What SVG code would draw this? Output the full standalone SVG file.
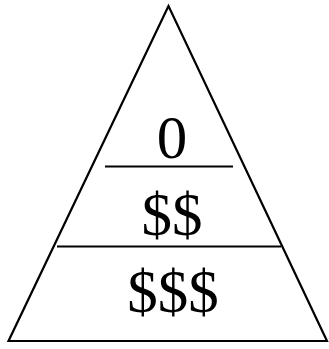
<svg xmlns="http://www.w3.org/2000/svg" width="329" height="349" viewBox="0 0 329 349">
<style>
.s{fill:none;stroke:#000;stroke-width:2.2}
.t{font-family:"Liberation Serif","Times New Roman",serif;font-size:61px;text-anchor:middle;fill:#000}
</style>
<rect width="329" height="349" fill="#fff"/>
<g id="pyramid">
<polygon class="s" points="168.5,6 8.5,341 327,341"/>
</g>
<g id="connectors">
<line class="s" x1="105" y1="166.5" x2="233" y2="166.5"/>
<line class="s" x1="57" y1="246.5" x2="281" y2="246.5"/>
</g>
<g id="tier0"><text class="t" x="172" y="158">0</text></g>
<g id="tier1"><text class="t" x="172" y="234.5">$$</text></g>
<g id="tier2"><text class="t" x="173" y="311.5">$$$</text></g>
</svg>
